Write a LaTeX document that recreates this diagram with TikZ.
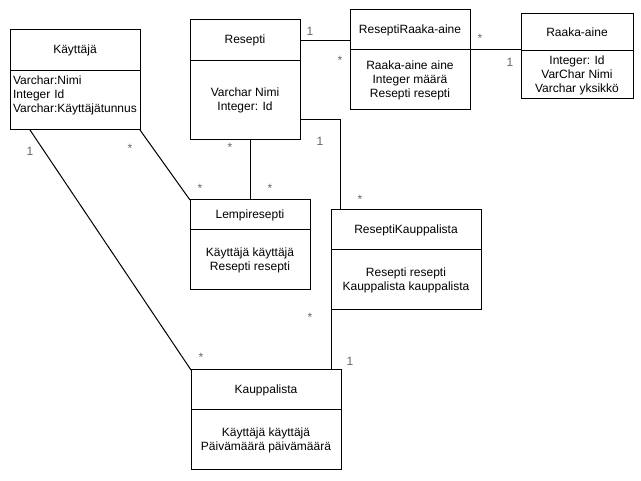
\documentclass[tikz,border=0pt]{standalone}
\usepackage{fontspec}
\setmainfont{Liberation Sans}
\usetikzlibrary{positioning,calc}

\begin{document}
\begin{tikzpicture}[
    x=1pt, y=-1pt,
    font=\fontsize{12}{14}\selectfont,
    head/.style={rectangle, draw, line width=1pt, inner sep=0pt, outer sep=0pt, anchor=north west, text centered}, % class name part
    body/.style={rectangle, draw, line width=1pt, inner sep=0pt, outer sep=0pt, below=0pt of #1, align=center}, % attribute part
    mult/.style={text=black!60, inner sep=0pt},
    link/.style={line width=1pt}
  ]
  \useasboundingbox (0,0) rectangle (641,481);

  % Classes
  \node (kayttaja) [head, minimum width=130pt, minimum height=41pt] at (10,30) {Käyttäjä};
  \node (kayttaja-body) [body=kayttaja, minimum width=130pt, minimum height=59pt, align=left, text width=124pt, text height=9pt, text depth=40pt, inner ysep=5pt] {Varchar:Nimi\\Integer Id\\Varchar:Käyttäjätunnus};

  \node (resepti) [head, minimum width=110pt, minimum height=41pt] at (190,20) {Resepti};
  \node (resepti-body) [body=resepti, minimum width=110pt, minimum height=79pt] {Varchar Nimi\\Integer: Id};

  \node (rra) [head, minimum width=120pt, minimum height=40pt] at (350,10) {ReseptiRaaka-aine};
  \node (rra-body) [body=rra, minimum width=120pt, minimum height=60pt] {Raaka-aine aine\\Integer määrä\\Resepti resepti};

  \node (raaka) [head, minimum width=112pt, minimum height=37pt] at (521,14) {Raaka-aine};
  \node (raaka-body) [body=raaka, minimum width=112pt, minimum height=48pt] {Integer: Id\\VarChar Nimi\\Varchar yksikkö};

  \node (lempi) [head, minimum width=120pt, minimum height=30pt] at (190,200) {Lempiresepti};
  \node (lempi-body) [body=lempi, minimum width=120pt, minimum height=60pt] {Käyttäjä käyttäjä\\Resepti resepti};

  \node (rk) [head, minimum width=150pt, minimum height=40pt] at (331,210) {ReseptiKauppalista};
  \node (rk-body) [body=rk, minimum width=150pt, minimum height=60pt] {Resepti resepti\\Kauppalista kauppalista};

  \node (kauppalista) [head, minimum width=150pt, minimum height=40pt] at (191,370) {Kauppalista};
  \node (kauppalista-body) [body=kauppalista, minimum width=150pt, minimum height=60pt] {Käyttäjä käyttäjä\\Päivämäärä päivämäärä};

  % Associations
  \draw[link] (resepti.east) -- (resepti.east -| rra.west);
  \draw[link] (rra.south east) -- (rra.south east -| raaka.west);
  \draw[link] (lempi.north) -- (lempi.north |- resepti-body.south);
  \draw[link] (kayttaja-body.south east) -- (lempi.north west);
  \draw[link] ($(kayttaja-body.south west)+(20,0)$) -- (kauppalista.north west);
  \draw[link] ($(resepti-body.south east)+(0,-20)$) -| ($(rk.north west)+(9,0)$);
  \draw[link] (rk-body.south west) -- (rk-body.south west |- kauppalista.north);

  % Multiplicities
  \node (m-rr1) [mult] at (310,31) {1};
  \node (m-rr2) [mult] at (340,60) {*};
  \node (m-ra1) [mult] at (480,38) {*};
  \node (m-ra2) [mult] at (510,62) {1};
  \node (m-rl1) [mult] at (230,147) {*};
  \node (m-rl2) [mult] at (270,188) {*};
  \node (m-kl1) [mult] at (130,148) {*};
  \node (m-kl2) [mult] at (200,188) {*};
  \node (m-kk1) [mult] at (30,151) {1};
  \node (m-kk2) [mult] at (201,357) {*};
  \node (m-rk1) [mult] at (320,141) {1};
  \node (m-rk2) [mult] at (360,199) {*};
  \node (m-kr1) [mult] at (310,317) {*};
  \node (m-kr2) [mult] at (350,361) {1};
\end{tikzpicture}
\end{document}
